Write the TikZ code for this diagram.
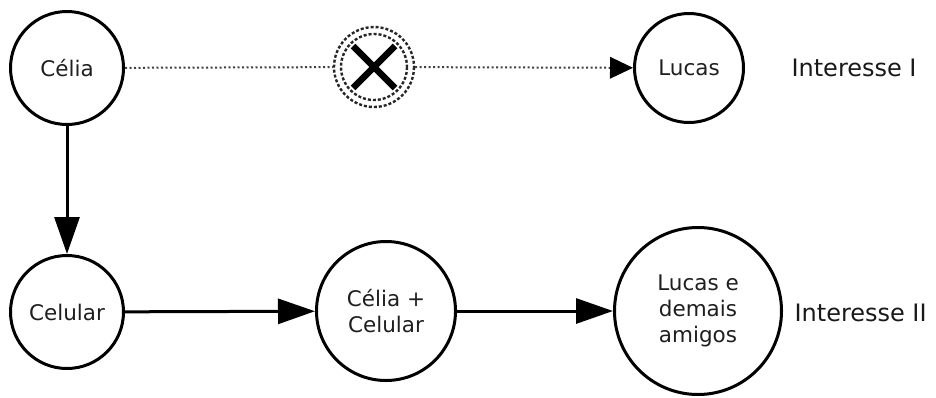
\documentclass[tikz,border=0pt]{standalone}
\usepackage{fontspec}
\setmainfont{DejaVu Sans}
\usetikzlibrary{arrows.meta,calc}
\begin{document}
\begin{tikzpicture}[x=1pt,y=-1pt,
  state/.style={circle,draw=black,line width=3pt,inner sep=0pt,
    minimum size=#1,text=black!88,align=center,
    font=\fontsize{21.5}{26}\selectfont},
  tag/.style={anchor=west,text=black!90,font=\fontsize{24}{28}\selectfont},
  flow/.style={line width=3pt,-{Triangle[length=37pt,width=25pt]}},
  dotline/.style={draw=black!75,line width=2pt,dash pattern=on 2pt off 2.5pt},
  dotring/.style={draw=black!85,line width=2.4pt,dash pattern=on 3pt off 2pt}
]
\useasboundingbox (0,0) rectangle (936,397);

% people and objects
\node[state=113] (celia) at (67,68) {Célia};
\node[state=109] (lucas) at (689,68) {Lucas};
\node[state=113] (celular) at (67,312) {Celular};
\node[state=139] (combo) at (386,311) {Célia +\\Celular};
\node[state=167] (amigos) at (698,311) {Lucas e\\demais\\amigos};

% blocked link marker: double dotted ring with a cross
\node[circle,minimum size=82,inner sep=0pt] (block) at (374,67) {};
\draw[dotring] (block.center) circle (40);
\draw[dotring] (block.center) circle (33);
\draw[line width=6.5pt] ($(block.center)+(-21,-21)$) -- ($(block.center)+(21,21)$)
  ($(block.center)+(21,-21)$) -- ($(block.center)+(-21,21)$);

% connectors
\draw[dotline] (celia) -- (block);
\draw[dotline,-{Triangle[length=23pt,width=22pt,line width=0pt,color=black,fill=black]}] (block) -- (lucas);
\draw[flow] (celia) -- (celular);
\draw[flow] (celular) -- (combo);
\draw[flow] (combo) -- (amigos);

% interest labels
\node[tag] (int1) at (788,68) {Interesse I};
\node[tag] (int2) at (791,313) {Interesse II};
\end{tikzpicture}
\end{document}
